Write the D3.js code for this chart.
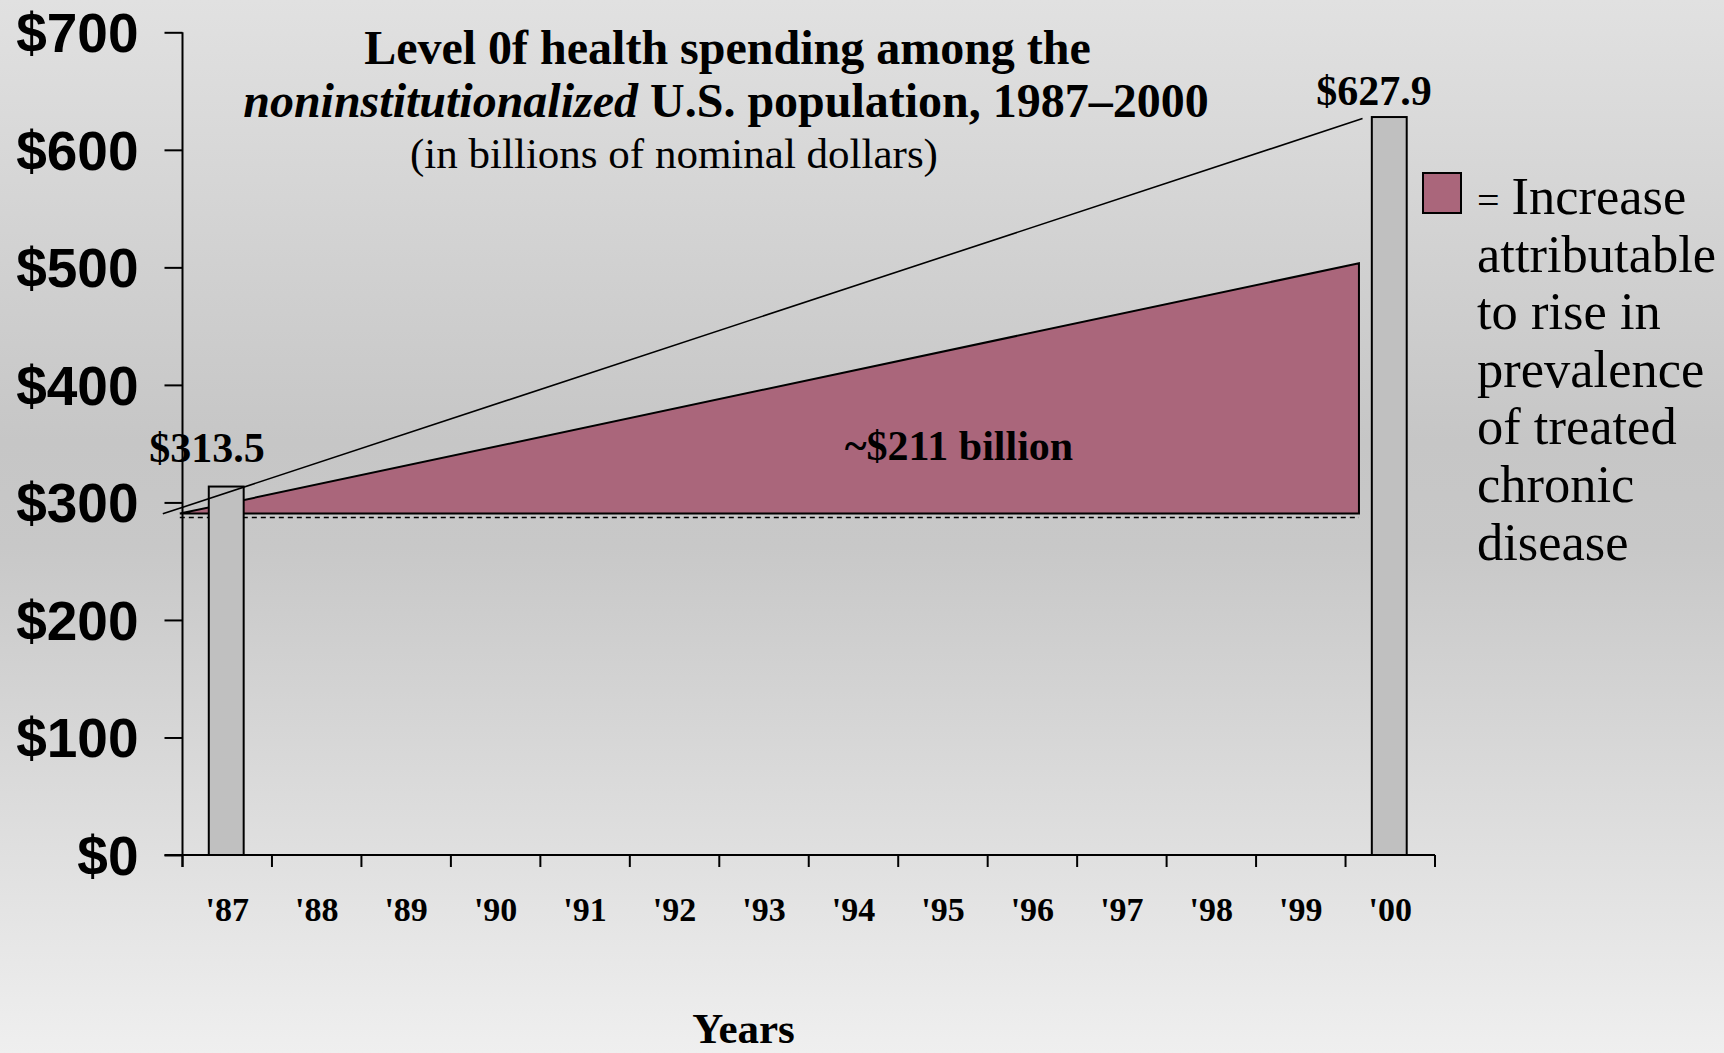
<!DOCTYPE html>
<html>
<head>
<meta charset="utf-8">
<script src="https://cdn.jsdelivr.net/npm/d3@7"></script>
<style>
  html, body { margin: 0; padding: 0; background: #ddd; }
  svg { display: block; }
</style>
</head>
<body>
<svg id="chart" width="1724" height="1053"></svg>
<script>
// ---------- data ----------
const years = ["'87","'88","'89","'90","'91","'92","'93","'94","'95","'96","'97","'98","'99","'00"];
const yearNums = [1987,1988,1989,1990,1991,1992,1993,1994,1995,1996,1997,1998,1999,2000];
const barYears = [1987, 2000];
const barValues = [313.5, 627.9];
const barLabels = ["$313.5", "$627.9"];
const yTicks = [0, 100, 200, 300, 400, 500, 600, 700];
// trend line joining the two bar tops (extended), in [year, value]
const trendLine = [[1986.28, 290.3], [1999.69, 626.6]];
// area attributable to rise in chronic disease prevalence: [year, base, top]
const increaseArea = [[1986.47, 290.5, 290.5], [1999.65, 290.5, 503.5]];
const baselineDashed = [[1986.47, 287.2], [1999.65, 287.2]];
const areaLabel = "~$211 billion";
const titleLine1 = "Level 0f health spending among the";
const titleLine2Italic = "noninstitutionalized";
const titleLine2Rest = " U.S. population, 1987\u20132000";
const titleLine3 = "(in billions of nominal dollars)";
const legendLines = ["Increase", "attributable", "to rise in", "prevalence", "of treated", "chronic", "disease"];
const xTitle = "Years";

// ---------- setup ----------
const svg = d3.select("#chart");
const W = 1724, H = 1053;
const serif = "'Liberation Serif', 'Times New Roman', serif";
const sans = "'Liberation Sans', Arial, sans-serif";
const pink = "#aa667b";

const defs = svg.append("defs");
const grad = defs.append("linearGradient").attr("id", "bg").attr("x1", 0).attr("y1", 0).attr("x2", 0).attr("y2", 1);
[[0, "#e1e1e1"], [0.42, "#c6c6c6"], [0.52, "#c8c8c8"], [1, "#efefef"]].forEach(([o, c]) =>
  grad.append("stop").attr("offset", o).attr("stop-color", c));
svg.append("rect").attr("width", W).attr("height", H).attr("fill", "url(#bg)");

const x0 = 182.5, x1 = 1435;
const x = d3.scaleLinear().domain([1986.5, 2000.5]).range([x0, x1]);
const band = d3.scaleBand().domain(yearNums).range([x0, x1]).padding(0);
const y = d3.scaleLinear().domain([0, 700]).range([855, 32.3]);

// ---------- increase area ----------
const area = d3.area()
  .x(d => x(d[0])).y0(d => y(d[1])).y1(d => y(d[2]));
svg.append("path").datum(increaseArea)
  .attr("d", area(increaseArea))
  .attr("fill", pink);
const outline = [
  [x(increaseArea[0][0]), y(increaseArea[0][2])],
  [x(increaseArea[1][0]), y(increaseArea[1][2])],
  [x(increaseArea[1][0]), y(increaseArea[1][1])],
  [x(increaseArea[0][0]), y(increaseArea[0][1])]
];
svg.append("path").attr("d", d3.line()(outline))
  .attr("fill", "none").attr("stroke", "#000").attr("stroke-width", 2).attr("stroke-linejoin", "miter");

svg.append("path").attr("d", d3.line().x(d => x(d[0])).y(d => y(d[1]))(baselineDashed))
  .attr("fill", "none").attr("stroke", "#000").attr("stroke-width", 1.5).attr("stroke-dasharray", "5,4");

// ---------- bars ----------
const barW = band.bandwidth() * 0.39;
svg.selectAll("rect.bar").data(barYears).join("rect")
  .attr("class", "bar")
  .attr("x", (d) => band(d) + band.bandwidth() / 2 - barW / 2 - 1)
  .attr("y", (d, i) => y(barValues[i]))
  .attr("width", barW)
  .attr("height", (d, i) => y(0) - y(barValues[i]))
  .attr("fill", "#c0c0c0").attr("stroke", "#000").attr("stroke-width", 2);

// trend line
svg.append("path").attr("d", d3.line().x(d => x(d[0])).y(d => y(d[1]))(trendLine))
  .attr("fill", "none").attr("stroke", "#000").attr("stroke-width", 1.6);

// ---------- axes ----------
const yAxis = d3.axisLeft(y).tickValues(yTicks).tickSize(18).tickSizeOuter(0).tickPadding(26)
  .tickFormat(d => "$" + d);
const gy = svg.append("g").attr("transform", `translate(${x0},0)`).call(yAxis);
gy.select(".domain").remove();
gy.selectAll(".tick line").attr("stroke", "#000").attr("stroke-width", 2);
gy.selectAll(".tick text").attr("font-family", sans).attr("font-weight", "bold")
  .attr("font-size", 55).attr("fill", "#000").attr("dy", "0.35em");
svg.append("line").attr("x1", x0).attr("x2", x0).attr("y1", y(700)).attr("y2", y(0) + 12)
  .attr("stroke", "#000").attr("stroke-width", 2);

// x axis line
svg.append("line").attr("x1", x0 - 18).attr("x2", x1).attr("y1", y(0)).attr("y2", y(0))
  .attr("stroke", "#000").attr("stroke-width", 2);
// boundary ticks
const bounds = yearNums.map(d => d - 0.5).concat([2000.5]);
svg.selectAll("line.xt").data(bounds).join("line").attr("class", "xt")
  .attr("x1", d => x(d)).attr("x2", d => x(d)).attr("y1", y(0)).attr("y2", y(0) + 12)
  .attr("stroke", "#000").attr("stroke-width", 2);
svg.selectAll("text.xl").data(yearNums).join("text").attr("class", "xl")
  .attr("x", d => band(d) + band.bandwidth() / 2).attr("y", 921)
  .attr("text-anchor", "middle").attr("font-family", serif).attr("font-weight", "bold")
  .attr("font-size", 34).text((d, i) => years[i]);

svg.append("text").attr("x", 743.5).attr("y", 1043).attr("text-anchor", "middle")
  .attr("font-family", serif).attr("font-weight", "bold").attr("font-size", 43).text(xTitle);

// ---------- labels ----------
const labelPos = [[207, 462], [1374, 105]];
svg.selectAll("text.bl").data(barLabels).join("text").attr("class", "bl")
  .attr("x", (d, i) => labelPos[i][0]).attr("y", (d, i) => labelPos[i][1])
  .attr("text-anchor", "middle").attr("font-family", serif).attr("font-weight", "bold")
  .attr("font-size", 42).text(d => d);

svg.append("text").attr("x", 959).attr("y", 460).attr("text-anchor", "middle")
  .attr("font-family", serif).attr("font-weight", "bold").attr("font-size", 42).text(areaLabel);

// ---------- title ----------
svg.append("text").attr("x", 727.5).attr("y", 64).attr("text-anchor", "middle")
  .attr("font-family", serif).attr("font-weight", "bold").attr("font-size", 48).text(titleLine1);
const t2 = svg.append("text").attr("x", 726).attr("y", 116.5).attr("text-anchor", "middle")
  .attr("font-family", serif).attr("font-weight", "bold").attr("font-size", 48);
t2.append("tspan").attr("font-style", "italic").text(titleLine2Italic);
t2.append("tspan").text(titleLine2Rest);
svg.append("text").attr("x", 674).attr("y", 168).attr("text-anchor", "middle")
  .attr("font-family", serif).attr("font-size", 43).text(titleLine3);

// ---------- legend ----------
svg.append("rect").attr("x", 1423).attr("y", 173).attr("width", 38).attr("height", 40)
  .attr("fill", pink).attr("stroke", "#000").attr("stroke-width", 2);
svg.append("text").attr("x", 1477).attr("y", 214).attr("font-family", serif).attr("font-size", 40).text("=");
svg.selectAll("text.lg").data(legendLines).join("text").attr("class", "lg")
  .attr("x", (d, i) => i === 0 ? 1511.5 : 1477).attr("y", (d, i) => 214 + i * 57.6)
  .attr("font-family", serif).attr("font-size", 52.5).text(d => d);
</script>
</body>
</html>
